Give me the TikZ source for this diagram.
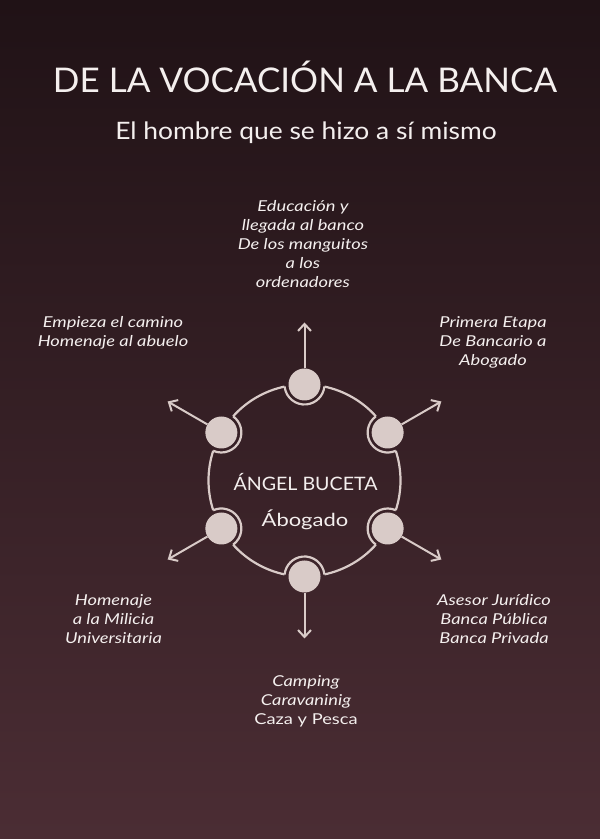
\documentclass[tikz,border=0pt]{standalone}
\usepackage{fontspec}
\setmainfont[FakeStretch=1.22]{Lato}
\newfontfamily\headfont[FakeStretch=1.03]{Lato}
\newfontfamily\subfont[FakeStretch=1.1]{Lato}
\newfontfamily\namefont[FakeStretch=1.06]{Lato}
\usetikzlibrary{arrows.meta,positioning}
\definecolor{bgtop}{HTML}{201216}
\definecolor{bgbot}{HTML}{4B2D34}
\definecolor{pale}{HTML}{D9CBC8}
\definecolor{ink}{HTML}{F4EFEE}

\begin{document}
\begin{tikzpicture}[x=1pt,y=1pt,>=Stealth]
      \tikzset{
        dot/.style={circle,fill=pale,inner sep=0pt,minimum size=32pt},
        ring/.style={draw=pale,line width=2.2pt},
        flow/.style={-{Straight Barb[length=7pt,width=13pt]},draw=pale,line width=2pt},
        lbl/.style={text=ink,align=center,font=\fontsize{15}{19}\selectfont\itshape}
      }
      \shade[top color=bgtop,bottom color=bgbot] (0,0) rectangle (600,839);
      \useasboundingbox (0,0) rectangle (600,839);

      \node[text=ink,font=\headfont\fontsize{34}{40}\selectfont,anchor=base] (title) at (305,746) {DE LA VOCACIÓN A LA BANCA};
      \node[text=ink,font=\subfont\fontsize{24}{28}\selectfont,anchor=base] (sub) at (306,699) {El hombre que se hizo a sí mismo};

      \coordinate (hub) at (304.5,358.5);
      \node[text=ink,font=\namefont\fontsize{18.5}{22}\selectfont] (name) at (305.5,357) {ÁNGEL BUCETA};
      \node[text=ink,font=\fontsize{18}{22}\selectfont] (job) at (305,319) {Ábogado};

      % outer ring with notches
      \foreach \a/\k in {90/1,30/2,-30/3,-90/4,-150/5,150/6}{
          \node[dot] (n\k) at ([shift={(\a:96)}]hub) {};
          \draw[ring] ([shift={({\a+12}:96)}]hub) arc[start angle=\a+12,end angle=\a+48,radius=96];
          \draw[ring] ([shift={({\a+96}:20)}]n\k.center) arc[start angle=\a+96,end angle=\a+264,radius=20];
          \coordinate (e\k) at ([shift={(\a:62)}]n\k.center);
          \draw[flow] (n\k) -- (e\k);
        }

      \node[lbl] (edu) at (303,594.5) {Educación y\\llegada al banco\\De los manguitos\\a los\\ordenadores};
      \node[lbl] (cam) at (113,506.5) {Empieza el camino\\Homenaje al abuelo};
      \node[lbl] (eta) at (493,496.5) {Primera Etapa\\De Bancario a\\Abogado};
      \node[lbl] (mil) at (113.5,219.5) {Homenaje\\a la Milicia\\Universitaria};
      \node[lbl] (ase) at (494,219.5) {Asesor Jurídico\\Banca Pública\\Banca Privada};
      \node[lbl] (ocio) at (306,137.5) {Camping\\Caravaninig\\{\upshape Caza y Pesca}};
    \end{tikzpicture}
\end{document}
